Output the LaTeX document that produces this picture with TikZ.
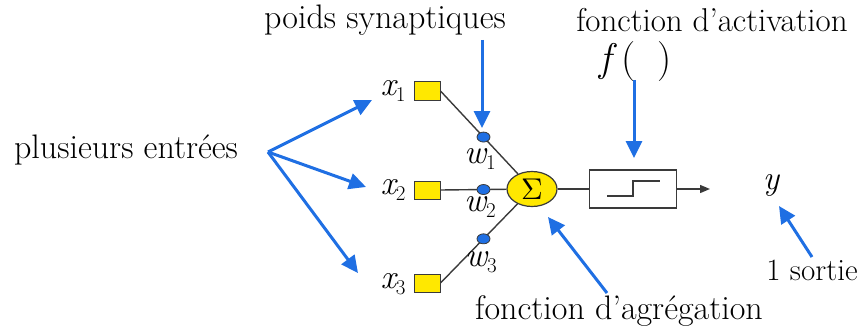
\documentclass[tikz,border=0pt]{standalone}
\usepackage{graphicx}
\usetikzlibrary{arrows.meta,positioning,shapes.geometric,calc}
\definecolor{arrowblue}{HTML}{1F6FE3}
\definecolor{inyellow}{HTML}{FFE800}
\definecolor{wirecol}{HTML}{3A3A3A}
\newcommand{\idx}[1]{\raisebox{-0.45ex}{\fontsize{21}{22}\selectfont\upshape #1}}
\tikzset{lbl/.style={font=\fontsize{34}{36}\selectfont,inner sep=0pt},
 var/.style={font=\fontsize{34}{36}\selectfont\itshape,inner sep=0pt},
 note/.style={-{Triangle[length=17pt,width=16pt]},line width=3pt,draw=arrowblue},
 inbox/.style={draw=wirecol,fill=inyellow,minimum width=26pt,minimum height=18pt,inner sep=0pt,line width=1pt},
 wdot/.style={ellipse,draw=wirecol,fill=arrowblue,minimum width=13pt,minimum height=10pt,inner sep=0pt,line width=0.8pt},
 wire/.style={draw=wirecol,line width=1.4pt}}

\begin{document}
\begin{tikzpicture}[x=1pt,y=-1pt]
\useasboundingbox (0,0) rectangle (865,329);
% inputs
\node[inbox] (box1) at (427,91) {};
\node[inbox] (box2) at (427,190) {};
\node[inbox] (box3) at (427,283) {};
\node[var] (x1) at (393,91) {x\idx{1}};
\node[var] (x2) at (393,190) {x\idx{2}};
\node[var] (x3) at (393,284) {x\idx{3}};

% sum and activation
\node[ellipse,draw=wirecol,fill=inyellow,minimum width=50pt,minimum height=35pt,inner sep=0pt,line width=1.2pt]
 (sum) at (532,189) {\scalebox{3}{$\Sigma$}};
\node[draw=wirecol,line width=1.3pt,minimum width=87pt,minimum height=38pt,inner sep=0pt] (act) at (633,189) {};
\draw[wire] ($(act.center)+(-26,7)$) -- ++(26,0) -- ++(0,-15) -- ++(27,0);

\draw[wire] (box1.east) -- (sum);
\draw[wire] (box2.east) -- (sum);
\draw[wire] (box3.east) -- (sum);
\node[wdot] (w1) at ($(box1.east)!0.47!(sum.center)$) {};
\node[wdot] (w2) at ($(box2.east)!0.47!(sum.center)$) {};
\node[wdot] (w3) at ($(box3.east)!0.47!(sum.center)$) {};
\node[var] (w1lbl) at (480,159) {w\idx{1}};
\node[var] (w2lbl) at (480,207) {w\idx{2}};
\node[var] (w3lbl) at (481,262) {w\idx{3}};

\draw[wire] (sum) -- (act);
\coordinate (outtip) at (710,189);
\draw[wire,-{Triangle[length=10pt,width=8pt]}] (act) -- (outtip);
\node[var] (yout) at (771,185) {y};

% captions
\node[lbl] (inputs) at (126,150) {plusieurs entrées};
\node[lbl] (poids) at (385,20) {poids synaptiques};
\node[lbl,font=\fontsize{33}{36}\selectfont] (activ) at (712,20) {fonction d’activation};
\node[font=\fontsize{40}{42}\selectfont,inner sep=0pt] (fexpr) at (636,62) {\textit{f}\hspace{4pt}(\hspace{22pt})};
\node[lbl] (agreg) at (619,311) {fonction d’agrégation};
\node[font=\fontsize{31}{33}\selectfont,inner sep=0pt] (sortie) at (812,270) {1 sortie};

% blue pointers
\coordinate (fan) at (268,152);
\coordinate (tip1) at (372,100);
\coordinate (tip2) at (366,187);
\coordinate (tip3) at (358,273);
\draw[note] (fan) -- (tip1);
\draw[note] (fan) -- (tip2);
\draw[note] (fan) -- (tip3);
\coordinate (synTail) at (482,40);
\coordinate (synTip) at (482,128);
\draw[note] (synTail) -- (synTip);
\coordinate (actTail) at (634,80);
\coordinate (actTip) at (634,158);
\draw[note] (actTail) -- (actTip);
\coordinate (agTail) at (607,293);
\coordinate (agTip) at (548,217);
\draw[note] (agTail) -- (agTip);
\coordinate (soTail) at (812,257);
\coordinate (soTip) at (779,206);
\draw[note] (soTail) -- (soTip);
\end{tikzpicture}
\end{document}
